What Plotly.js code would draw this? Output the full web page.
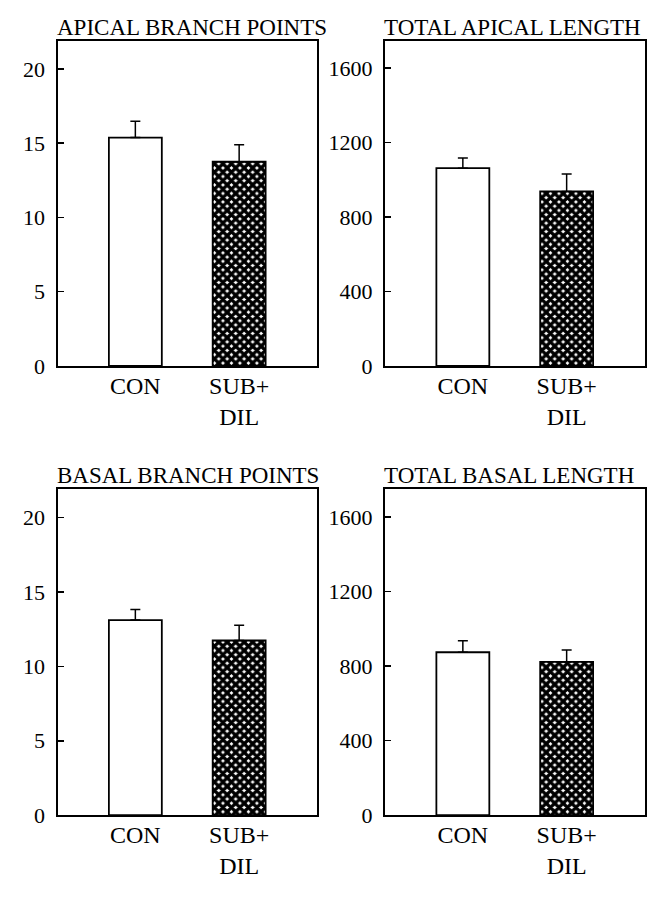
<!DOCTYPE html>
<html>
<head>
<meta charset="utf-8">
<script src="https://cdn.plot.ly/plotly-3.0.1.min.js"></script>
<style>html,body{margin:0;padding:0;background:#fff;}#chart{width:666px;height:900px;}</style>
</head>
<body>
<div id="chart"></div>
<script>
// Data
const categories = ['CON', 'SUB+<br>DIL'];
const panelTitles = ['APICAL BRANCH POINTS', 'TOTAL APICAL LENGTH', 'BASAL BRANCH POINTS', 'TOTAL BASAL LENGTH'];

const apicalBranchMean = [15.38, 13.75];
const apicalBranchSEM  = [1.10, 1.14];
const apicalLengthMean = [1062, 937];
const apicalLengthSEM  = [54, 93];
const basalBranchMean  = [13.11, 11.74];
const basalBranchSEM   = [0.72, 1.03];
const basalLengthMean  = [874, 822];
const basalLengthSEM   = [62, 64];

const branchTicks = [0, 5, 10, 15, 20];
const lengthTicks = [0, 400, 800, 1200, 1600];

const FONT = 'Liberation Serif, Times New Roman, serif';

function makeTraces(means, sems, xa, ya) {
  const err = {type: 'data', symmetric: false, array: null, arrayminus: null,
               color: '#000', thickness: 1.5, width: 5};
  const con = {
    type: 'bar', x: [categories[0]], y: [means[0]], xaxis: xa, yaxis: ya,
    width: 0.51,
    marker: {color: '#fff', line: {color: '#000', width: 1.8}},
    error_y: Object.assign({}, err, {array: [sems[0]], arrayminus: [0]}),
    showlegend: false, hoverinfo: 'skip'
  };
  const sub = {
    type: 'bar', x: [categories[1]], y: [means[1]], xaxis: xa, yaxis: ya,
    width: 0.51,
    marker: {color: '#fff', line: {color: '#000', width: 1.8},
             pattern: {shape: 'x', fgcolor: '#000', bgcolor: '#fff', size: 6, solidity: 0.8}},
    error_y: Object.assign({}, err, {array: [sems[1]], arrayminus: [0]}),
    showlegend: false, hoverinfo: 'skip'
  };
  return [con, sub];
}

const data = []
  .concat(makeTraces(apicalBranchMean, apicalBranchSEM, 'x', 'y'))
  .concat(makeTraces(apicalLengthMean, apicalLengthSEM, 'x2', 'y2'))
  .concat(makeTraces(basalBranchMean, basalBranchSEM, 'x3', 'y3'))
  .concat(makeTraces(basalLengthMean, basalLengthSEM, 'x4', 'y4'));

const xLeft = [57.5 / 666, 317 / 666];
const xRight = [385 / 666, 644.5 / 666];
const yTop = [(900 - 366) / 900, (900 - 40.7) / 900];
const yBot = [(900 - 815.2) / 900, (900 - 489.3) / 900];

function xAxis(domain, anchor) {
  return {
    domain: domain, anchor: anchor, type: 'category', range: [-0.75, 1.75],
    showline: true, mirror: true, linecolor: '#000', linewidth: 2,
    ticks: '', showgrid: false, zeroline: false, fixedrange: true,
    tickfont: {family: FONT, size: 24, color: '#000'}, ticklabelstandoff: -3
  };
}
function yAxis(domain, anchor, range, ticks) {
  return {
    domain: domain, anchor: anchor, range: range,
    tickvals: ticks, ticktext: ticks.map(String),
    showline: true, mirror: true, linecolor: '#000', linewidth: 2,
    ticks: 'inside', ticklen: 6, tickwidth: 1.5, tickcolor: '#000',
    showgrid: false, zeroline: false, fixedrange: true,
    tickfont: {family: FONT, size: 22, color: '#000'}, ticklabelstandoff: 6
  };
}

const layout = {
  width: 666, height: 900,
  margin: {l: 0, r: 0, t: 0, b: 0},
  paper_bgcolor: '#fff', plot_bgcolor: '#fff',
  bargap: 0,
  xaxis: xAxis(xLeft, 'y'),
  yaxis: yAxis(yTop, 'x', [0, 21.9], branchTicks),
  xaxis2: xAxis(xRight, 'y2'),
  yaxis2: yAxis(yTop, 'x2', [0, 1746], lengthTicks),
  xaxis3: xAxis(xLeft, 'y3'),
  yaxis3: yAxis(yBot, 'x3', [0, 21.9], branchTicks),
  xaxis4: xAxis(xRight, 'y4'),
  yaxis4: yAxis(yBot, 'x4', [0, 1748], lengthTicks),
  annotations: panelTitles.map((t, i) => ({
    text: t, showarrow: false,
    xref: (i === 0 ? 'x' : 'x' + (i + 1)) + ' domain',
    yref: (i === 0 ? 'y' : 'y' + (i + 1)) + ' domain',
    x: 0, y: 1, xanchor: 'left', yanchor: 'bottom', xshift: -3, yshift: -1,
    font: {family: FONT, size: 23, color: '#000'}
  }))
};

Plotly.newPlot('chart', data, layout, {staticPlot: true, displayModeBar: false});
</script>
</body>
</html>
